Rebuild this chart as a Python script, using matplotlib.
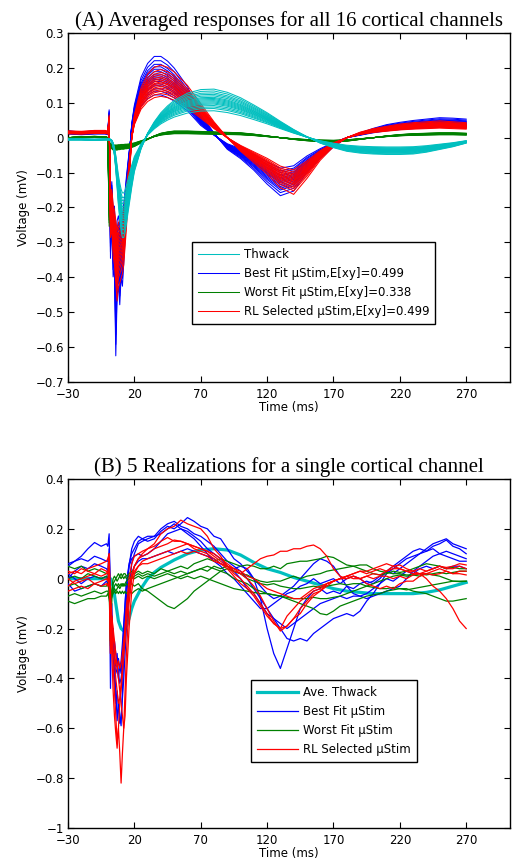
import matplotlib.pyplot as plt
import numpy as np
from matplotlib.lines import Line2D

# MATLAB style colours
c_thwack = (0.0, 0.75, 0.75)
c_best = (0.0, 0.0, 1.0)
c_worst = (0.0, 0.5, 0.0)
c_rl = (1.0, 0.0, 0.0)

xticks = [-30, 20, 70, 120, 170, 220, 270]
xtick_labels = ['\u221230', '20', '70', '120', '170', '220', '270']

# ---------------- panel A : channel averages ----------------
t_a = [-30, -20, -10, -2, 0, 1, 2, 3, 4, 5, 6, 7, 8, 9, 10, 11, 12, 13, 14, 16,
       18, 20, 25, 30, 35, 40, 45, 50, 60, 70, 80, 90, 100, 110, 120, 130, 140,
       150, 160, 170, 180, 190, 200, 210, 220, 230, 240, 250, 260, 270]

thwack_a = [-0.005, -0.005, -0.006, -0.005, -0.005, -0.005, -0.006, -0.01, -0.02, -0.04,
            -0.07, -0.11, -0.15, -0.18, -0.205, -0.22, -0.22, -0.21, -0.19, -0.15,
            -0.11, -0.075, -0.025, 0.01, 0.035, 0.055, 0.07, 0.082, 0.098, 0.106,
            0.107, 0.1, 0.088, 0.072, 0.055, 0.036, 0.018, 0.002, -0.012, -0.022,
            -0.03, -0.034, -0.036, -0.037, -0.037, -0.036, -0.032, -0.026, -0.02, -0.012]

best_a = [0.015, 0.012, 0.015, 0.015, 0.012, 0.06, -0.26, -0.18, -0.3, -0.28,
          -0.47, -0.34, -0.32, -0.36, -0.3, -0.32, -0.27, -0.22, -0.16, -0.06,
          0.03, 0.07, 0.13, 0.16, 0.175, 0.175, 0.165, 0.15, 0.11, 0.05,
          0.01, -0.025, -0.045, -0.07, -0.1, -0.125, -0.115, -0.075, -0.045, -0.02,
          0.0, 0.01, 0.02, 0.028, 0.033, 0.037, 0.04, 0.043, 0.042, 0.04]

worst_a = [0.0, 0.002, 0.003, 0.002, 0.0, -0.2, -0.02, -0.025, -0.028, -0.028,
           -0.028, -0.028, -0.027, -0.027, -0.026, -0.026, -0.026, -0.025, -0.025, -0.024,
           -0.022, -0.02, -0.012, -0.004, 0.004, 0.01, 0.013, 0.015, 0.015, 0.014,
           0.013, 0.012, 0.011, 0.008, 0.004, 0.0, -0.004, -0.007, -0.009, -0.01,
           -0.008, -0.004, 0.0, 0.004, 0.007, 0.009, 0.01, 0.011, 0.011, 0.01]

rl_a = [0.015, 0.014, 0.016, 0.016, 0.014, 0.05, -0.22, -0.2, -0.26, -0.28,
        -0.32, -0.36, -0.33, -0.32, -0.31, -0.3, -0.28, -0.24, -0.2, -0.1,
        0.0, 0.05, 0.11, 0.14, 0.155, 0.16, 0.155, 0.145, 0.115, 0.075,
        0.035, 0.0, -0.03, -0.055, -0.08, -0.11, -0.125, -0.09, -0.05, -0.02,
        0.0, 0.012, 0.02, 0.025, 0.03, 0.033, 0.035, 0.037, 0.035, 0.033]

# per-channel amplitude of each of the 16 channels
gain_thwack = [0.72, 0.78, 0.82, 0.86, 0.9, 0.93, 0.96, 0.99, 1.02, 1.05, 1.08, 1.12, 1.16, 1.2, 1.25, 1.3]
gain_best = [0.7, 0.76, 0.8, 0.85, 0.88, 0.92, 0.95, 0.98, 1.01, 1.04, 1.08, 1.12, 1.16, 1.2, 1.26, 1.33]
gain_worst = [0.75, 0.8, 0.84, 0.88, 0.91, 0.94, 0.97, 1.0, 1.02, 1.05, 1.08, 1.11, 1.14, 1.18, 1.22, 1.27]
gain_rl = [0.74, 0.79, 0.83, 0.86, 0.89, 0.92, 0.95, 0.98, 1.0, 1.03, 1.06, 1.09, 1.13, 1.17, 1.22, 1.3]

legend_a = ['Thwack', 'Best Fit \u00b5Stim,E[xy]=0.499', 'Worst Fit \u00b5Stim,E[xy]=0.338',
            'RL Selected \u00b5Stim,E[xy]=0.499']
yticks_a = [-0.7, -0.6, -0.5, -0.4, -0.3, -0.2, -0.1, 0, 0.1, 0.2, 0.3]
ytick_labels_a = ['\u22120.7', '\u22120.6', '\u22120.5', '\u22120.4', '\u22120.3', '\u22120.2',
                  '\u22120.1', '0', '0.1', '0.2', '0.3']

# ---------------- panel B : single channel realizations ----------------
t_b = [-30, -25, -20, -15, -10, -5, -1, 0,
       1, 2, 3, 4, 5, 6, 7, 8, 9, 10, 11, 12, 13, 14,
       16, 18, 20, 23, 26,
       30, 35, 40, 45, 50, 55, 60, 65, 70, 75, 80, 85, 90, 95, 100,
       105, 110, 115, 120, 125, 130, 135, 140, 145, 150, 155, 160, 165, 170,
       175, 180, 185, 190, 195, 200, 205, 210, 215, 220, 225, 230, 235, 240, 245, 250, 255, 260, 265, 270]

thwack_avg_t = [-30, -10, 0, 2, 4, 6, 8, 10, 12, 14, 16, 18, 20, 25, 30, 35, 40, 50, 60, 70,
                80, 90, 100, 110, 120, 130, 140, 150, 160, 170, 180, 190, 200, 210, 220,
                230, 240, 250, 260, 270]
thwack_avg = [0.0, 0.0, 0.0, 0.0, -0.03, -0.1, -0.17, -0.2, -0.21, -0.19, -0.16, -0.12, -0.09,
              -0.04, 0.0, 0.025, 0.045, 0.075, 0.1, 0.115, 0.12, 0.115, 0.095, 0.065, 0.04,
              0.025, 0.005, -0.01, -0.025, -0.04, -0.05, -0.055, -0.06, -0.06, -0.06, -0.06,
              -0.055, -0.045, -0.03, -0.015]

best_b1 = [0.05, 0.07, 0.09, 0.12, 0.145, 0.13, 0.14, 0.13,
           0.18, -0.1, -0.25, -0.2, -0.35, -0.45, -0.57, -0.5, -0.55, -0.59, -0.45, -0.3, -0.18, -0.08,
           0.05, 0.12, 0.15, 0.17, 0.16,
           0.15, 0.16, 0.19, 0.21, 0.2, 0.22, 0.245, 0.23, 0.21, 0.2, 0.17, 0.16, 0.12, 0.08, 0.06,
           0.03, 0.0, -0.08, -0.2, -0.3, -0.36, -0.28, -0.2, -0.12, -0.08, -0.05, -0.04, -0.06, -0.05,
           -0.06, -0.03, -0.04, -0.02, -0.01, -0.02, 0.0, 0.03, 0.05, 0.07, 0.09, 0.11, 0.12, 0.11,
           0.13, 0.14, 0.155, 0.13, 0.12, 0.1]
best_b2 = [0.06, 0.07, 0.08, 0.07, 0.09, 0.08, 0.07, 0.07,
           0.1, -0.44, -0.1, -0.3, -0.4, -0.5, -0.45, -0.52, -0.58, -0.55, -0.48, -0.4, -0.3, -0.2,
           -0.05, 0.06, 0.1, 0.14, 0.15,
           0.16, 0.17, 0.2, 0.22, 0.23, 0.21, 0.2, 0.18, 0.17, 0.15, 0.13, 0.1, 0.07, 0.05, 0.03,
           0.0, -0.04, -0.08, -0.12, -0.16, -0.2, -0.24, -0.25, -0.24, -0.25, -0.22, -0.2, -0.18, -0.16,
           -0.15, -0.14, -0.15, -0.13, -0.09, -0.06, -0.02, 0.02, 0.04, 0.06, 0.08, 0.09, 0.1, 0.11,
           0.12, 0.1, 0.11, 0.1, 0.09, 0.08]
best_b3 = [0.02, 0.0, -0.02, 0.0, 0.01, 0.0, 0.01, 0.0,
           0.05, -0.2, -0.15, -0.25, -0.33, -0.38, -0.36, -0.4, -0.35, -0.38, -0.3, -0.2, -0.1, -0.02,
           0.05, 0.08, 0.09, 0.1, 0.09,
           0.1, 0.12, 0.15, 0.18, 0.19, 0.2, 0.19, 0.17, 0.15, 0.12, 0.1, 0.08, 0.05, 0.03, 0.0,
           -0.04, -0.06, -0.1, -0.14, -0.16, -0.18, -0.2, -0.18, -0.16, -0.14, -0.12, -0.1, -0.09, -0.08,
           -0.07, -0.08, -0.07, -0.07, -0.08, -0.07, -0.06, -0.05, -0.04, -0.03, 0.0, 0.03, 0.05, 0.07,
           0.09, 0.1, 0.09, 0.08, 0.07, 0.07]
best_b4 = [-0.02, -0.05, -0.04, -0.03, -0.02, -0.03, -0.01, -0.02,
           0.0, -0.15, -0.28, -0.22, -0.32, -0.35, -0.3, -0.38, -0.42, -0.4, -0.35, -0.28, -0.2, -0.12,
           -0.04, 0.02, 0.05, 0.07, 0.08,
           0.08, 0.09, 0.1, 0.11, 0.1, 0.11, 0.12, 0.11, 0.1, 0.09, 0.08, 0.06, 0.05, 0.04, 0.05,
           0.04, 0.0, -0.03, -0.06, -0.08, -0.07, -0.05, -0.03, 0.0, 0.03, 0.06, 0.08, 0.07, 0.05,
           0.01, -0.03, -0.06, -0.07, -0.06, -0.04, -0.02, 0.0, -0.01, 0.01, 0.03, 0.02, 0.04, 0.05,
           0.04, 0.05, 0.04, 0.05, 0.05, 0.04]
best_b5 = [0.0, 0.03, 0.05, 0.04, 0.06, 0.05, 0.04, 0.03,
           0.12, -0.05, -0.2, -0.3, -0.25, -0.3, -0.34, -0.32, -0.36, -0.33, -0.26, -0.18, -0.1, -0.02,
           0.06, 0.1, 0.12, 0.15, 0.16,
           0.17, 0.17, 0.18, 0.2, 0.22, 0.2, 0.18, 0.16, 0.13, 0.1, 0.07, 0.05, 0.02, 0.0, -0.03,
           -0.06, -0.09, -0.12, -0.12, -0.1, -0.08, -0.06, -0.05, -0.03, -0.02, 0.0, -0.02, -0.01, 0.0,
           -0.02, 0.0, 0.01, 0.0, -0.02, -0.01, 0.01, 0.03, 0.02, 0.04, 0.06, 0.08, 0.1, 0.12,
           0.14, 0.15, 0.16, 0.14, 0.13, 0.12]

worst_b1 = [0.05, 0.04, 0.05, 0.03, 0.04, 0.03, 0.02, 0.02,
            0.0, -0.25, -0.05, 0.0, 0.01, 0.0, 0.01, 0.02, 0.01, 0.02, 0.01, 0.02, 0.02, 0.01,
            0.02, 0.03, 0.02, 0.03, 0.02,
            0.03, 0.02, 0.04, 0.03, 0.04, 0.05, 0.04, 0.06, 0.07, 0.08, 0.07, 0.08, 0.07, 0.06, 0.05,
            0.055, 0.05, 0.04, 0.04, 0.05, 0.04, 0.06, 0.065, 0.07, 0.07, 0.075, 0.08, 0.09, 0.085,
            0.07, 0.055, 0.05, 0.04, 0.03, 0.02, 0.015, 0.02, 0.03, 0.025, 0.03, 0.04, 0.05, 0.06,
            0.055, 0.05, 0.04, 0.045, 0.04, 0.04]
worst_b2 = [0.0, 0.01, 0.0, 0.02, 0.01, 0.0, 0.01, 0.0,
            -0.05, -0.15, -0.05, -0.02, -0.01, 0.0, -0.01, 0.0, 0.01, 0.0, 0.01, 0.0, 0.01, 0.0,
            0.01, 0.0, 0.01, 0.02, 0.01,
            0.02, 0.01, 0.02, 0.03, 0.02, 0.03, 0.02, 0.03, 0.04, 0.03, 0.05, 0.04, 0.05, 0.03, 0.02,
            0.015, 0.0, -0.01, -0.015, -0.01, -0.01, 0.0, 0.01, 0.0, 0.01, 0.015, 0.02, 0.03, 0.035,
            0.04, 0.045, 0.05, 0.055, 0.055, 0.04, 0.03, 0.025, 0.02, 0.02, 0.015, 0.015, 0.01, 0.02,
            0.015, 0.01, 0.0, -0.01, -0.01, -0.01]
worst_b3 = [-0.03, -0.02, -0.04, -0.03, -0.02, -0.03, -0.03, -0.02,
            -0.05, -0.27, -0.08, -0.04, -0.03, -0.02, -0.03, -0.02, -0.03, -0.02, -0.03, -0.02, -0.03, -0.02,
            -0.03, -0.02, -0.03, -0.02, -0.04,
            -0.05, -0.07, -0.09, -0.11, -0.12, -0.1, -0.08, -0.05, -0.03, -0.01, 0.01, 0.03, 0.04, 0.03, 0.02,
            0.0, -0.01, -0.02, -0.025, -0.02, -0.03, -0.035, -0.04, -0.04, -0.035, -0.03, -0.035, -0.03, -0.025,
            -0.02, -0.025, -0.02, -0.02, -0.03, -0.035, -0.04, -0.04, -0.035, -0.04, -0.045, -0.04, -0.035, -0.03,
            -0.025, -0.02, -0.015, -0.01, -0.012, -0.01]
worst_b4 = [-0.07, -0.06, -0.07, -0.06, -0.05, -0.06, -0.05, -0.05,
            -0.07, -0.1, -0.07, -0.06, -0.05, -0.06, -0.05, -0.06, -0.05, -0.06, -0.05, -0.06, -0.05, -0.06,
            -0.05, -0.06, -0.05, -0.04, -0.05,
            -0.04, -0.03, -0.02, -0.01, 0.0, 0.01, 0.02, 0.03, 0.04, 0.05, 0.04, 0.03, 0.02, 0.0, -0.01,
            -0.02, -0.04, -0.05, -0.06, -0.065, -0.07, -0.08, -0.09, -0.1, -0.11, -0.12, -0.14, -0.145, -0.13,
            -0.11, -0.1, -0.09, -0.08, -0.07, -0.065, -0.06, -0.05, -0.045, -0.04, -0.04, -0.05, -0.055, -0.06,
            -0.07, -0.08, -0.09, -0.09, -0.085, -0.08]
worst_b5 = [-0.09, -0.1, -0.09, -0.08, -0.08, -0.07, -0.07, -0.06,
            -0.08, -0.12, -0.06, -0.05, -0.04, -0.05, -0.04, -0.03, -0.04, -0.03, -0.02, -0.03, -0.02, -0.01,
            0.0, 0.01, 0.0, 0.01, 0.0,
            0.01, 0.0, 0.01, 0.02, 0.01, 0.0, 0.01, 0.0, 0.01, 0.0, -0.01, -0.02, -0.03, -0.04, -0.045,
            -0.05, -0.055, -0.06, -0.06, -0.065, -0.07, -0.075, -0.08, -0.08, -0.08, -0.075, -0.08, -0.08, -0.075,
            -0.07, -0.06, -0.05, -0.04, -0.03, -0.02, -0.01, 0.0, 0.01, 0.015, 0.01, 0.015, 0.02, 0.015,
            0.02, 0.025, 0.02, 0.025, 0.03, 0.03]

rl_b1 = [-0.03, -0.01, 0.0, 0.01, 0.02, 0.01, 0.02, 0.03,
         0.1, -0.3, -0.2, -0.35, -0.45, -0.55, -0.66, -0.6, -0.7, -0.82, -0.7, -0.6, -0.45, -0.3,
         -0.1, 0.0, 0.05, 0.08, 0.1,
         0.12, 0.14, 0.18, 0.2, 0.21, 0.235, 0.22, 0.21, 0.2, 0.17, 0.12, 0.09, 0.05, 0.02, 0.0,
         -0.03, -0.06, -0.1, -0.14, -0.18, -0.2, -0.19, -0.16, -0.12, -0.09, -0.06, -0.05, -0.03, -0.01,
         0.0, 0.01, 0.02, 0.03, 0.02, 0.03, 0.04, 0.03, 0.04, 0.04, 0.03, 0.02, 0.02, 0.0,
         -0.03, -0.05, -0.08, -0.12, -0.17, -0.2]
rl_b2 = [0.02, 0.03, 0.02, 0.04, 0.05, 0.06, 0.07, 0.08,
         0.1, -0.1, -0.3, -0.45, -0.55, -0.62, -0.68, -0.6, -0.5, -0.45, -0.38, -0.3, -0.2, -0.12,
         0.0, 0.06, 0.09, 0.1, 0.11,
         0.12, 0.13, 0.15, 0.165, 0.15, 0.15, 0.14, 0.13, 0.12, 0.11, 0.09, 0.07, 0.05, 0.03, 0.02,
         0.04, 0.06, 0.08, 0.09, 0.095, 0.11, 0.11, 0.12, 0.12, 0.13, 0.135, 0.12, 0.09, 0.04,
         0.01, 0.0, 0.01, 0.0, 0.01, 0.02, 0.015, 0.03, 0.05, 0.055, 0.04, 0.03, 0.02, 0.02,
         0.015, 0.02, 0.03, 0.02, 0.03, 0.03]
rl_b3 = [0.0, -0.02, -0.01, 0.0, -0.02, -0.01, 0.0, -0.01,
         0.05, -0.25, -0.2, -0.3, -0.33, -0.4, -0.45, -0.5, -0.48, -0.42, -0.35, -0.3, -0.25, -0.18,
         -0.06, 0.0, 0.03, 0.05, 0.07,
         0.08, 0.09, 0.1, 0.11, 0.12, 0.13, 0.14, 0.13, 0.12, 0.11, 0.1, 0.08, 0.06, 0.04, 0.02,
         0.0, -0.03, -0.07, -0.12, -0.17, -0.21, -0.19, -0.16, -0.14, -0.1, -0.07, -0.05, -0.02, -0.01,
         0.0, 0.01, 0.02, 0.03, 0.03, 0.04, 0.05, 0.06, 0.05, 0.04, 0.03, 0.03, 0.04, 0.03,
         0.04, 0.05, 0.04, 0.04, 0.05, 0.04]
rl_b4 = [-0.05, -0.04, -0.03, -0.04, -0.02, -0.03, -0.02, -0.03,
         0.0, -0.3, -0.15, -0.22, -0.3, -0.34, -0.36, -0.33, -0.36, -0.34, -0.3, -0.25, -0.2, -0.12,
         -0.03, 0.02, 0.05, 0.08, 0.09,
         0.1, 0.12, 0.13, 0.14, 0.155, 0.15, 0.14, 0.12, 0.11, 0.1, 0.08, 0.06, 0.04, 0.01, -0.02,
         -0.04, -0.07, -0.11, -0.15, -0.18, -0.2, -0.15, -0.12, -0.09, -0.07, -0.05, -0.04, -0.02, -0.01,
         0.0, 0.01, 0.0, 0.0, -0.02, -0.03, -0.04, -0.03, -0.04, -0.02, -0.01, -0.01, 0.01, 0.02,
         0.03, 0.04, 0.03, 0.02, 0.02, 0.015]
rl_b5 = [0.03, 0.02, 0.04, 0.03, 0.02, 0.04, 0.03, 0.02,
         0.04, -0.05, -0.15, -0.2, -0.25, -0.3, -0.35, -0.4, -0.45, -0.5, -0.55, -0.6, -0.55, -0.4,
         -0.2, -0.05, 0.02, 0.05, 0.06,
         0.06, 0.07, 0.08, 0.09, 0.1, 0.11, 0.1, 0.11, 0.1, 0.09, 0.07, 0.06, 0.05, 0.04, 0.03,
         0.01, 0.0, -0.02, -0.04, -0.05, -0.06, -0.07, -0.08, -0.08, -0.06, -0.04, -0.03, -0.02, -0.01,
         0.0, 0.0, 0.01, 0.0, 0.01, 0.0, 0.01, 0.01, 0.0, 0.01, 0.0, 0.015, 0.02, 0.03,
         0.04, 0.05, 0.045, 0.05, 0.06, 0.055]

legend_b = ['Ave. Thwack', 'Best Fit \u00b5Stim', 'Worst Fit \u00b5Stim', 'RL Selected \u00b5Stim']
yticks_b = [-1, -0.8, -0.6, -0.4, -0.2, 0, 0.2, 0.4]
ytick_labels_b = ['\u22121', '\u22120.8', '\u22120.6', '\u22120.4', '\u22120.2', '0', '0.2', '0.4']

plt.rcParams['font.family'] = ['DejaVu Sans']
fs = 8.5

fig = plt.figure(figsize=(5.14, 8.65), dpi=100)
ax1 = fig.add_axes([0.1323, 0.5584, 0.8599, 0.4035])
ax2 = fig.add_axes([0.1323, 0.0428, 0.8599, 0.4035])

leg_kw = dict(loc='upper left', fontsize=fs, fancybox=False, edgecolor='black', framealpha=1,
              handlelength=3.5, handletextpad=0.4, borderpad=0.5, labelspacing=0.5,
              borderaxespad=0)

# panel A
lw_a = 0.75
for g in gain_best:
    ax1.plot(t_a, np.array(best_a) * g, color=c_best, lw=lw_a, zorder=2)
for g in gain_worst:
    ax1.plot(t_a, np.array(worst_a) * g, color=c_worst, lw=lw_a, zorder=3)
for g in gain_rl:
    ax1.plot(t_a, np.array(rl_a) * g, color=c_rl, lw=lw_a, zorder=4)
for g in gain_thwack:
    ax1.plot(t_a, np.array(thwack_a) * g, color=c_thwack, lw=lw_a, zorder=5)

handles_a = [Line2D([], [], color=c, lw=lw_a) for c in [c_thwack, c_best, c_worst, c_rl]]
leg = ax1.legend(handles_a, legend_a, bbox_to_anchor=(0.28, 0.401), **leg_kw)
leg.get_frame().set_linewidth(1.0)
ax1.set_ylim(-0.7, 0.3)
ax1.set_yticks(yticks_a)
ax1.set_yticklabels(ytick_labels_a)
ax1.set_title('(A) Averaged responses for all 16 cortical channels',
              family='Liberation Serif', fontsize=15, pad=5)

# panel B
ax2.plot(thwack_avg_t, thwack_avg, color=c_thwack, lw=2.3, zorder=2)
lw_b = 0.9
for tr in [best_b1, best_b2, best_b3, best_b4, best_b5]:
    ax2.plot(t_b, tr, color=c_best, lw=lw_b, zorder=3)
for tr in [worst_b1, worst_b2, worst_b3, worst_b4, worst_b5]:
    ax2.plot(t_b, tr, color=c_worst, lw=lw_b, zorder=4)
for tr in [rl_b1, rl_b2, rl_b3, rl_b4, rl_b5]:
    ax2.plot(t_b, tr, color=c_rl, lw=lw_b, zorder=5)

handles_b = [Line2D([], [], color=c_thwack, lw=2.3)] + \
            [Line2D([], [], color=c, lw=lw_b) for c in [c_best, c_worst, c_rl]]
leg = ax2.legend(handles_b, legend_b, bbox_to_anchor=(0.414, 0.423), **leg_kw)
leg.get_frame().set_linewidth(1.0)
ax2.set_ylim(-1, 0.4)
ax2.set_yticks(yticks_b)
ax2.set_yticklabels(ytick_labels_b)
ax2.set_title('(B) 5 Realizations for a single cortical channel',
              family='Liberation Serif', fontsize=15, pad=5)

for ax in [ax1, ax2]:
    ax.set_xlim(-30, 303)
    ax.set_xticks(xticks)
    ax.set_xticklabels(xtick_labels)
    ax.tick_params(direction='in', top=True, right=True, length=4, width=0.8,
                   labelsize=fs, pad=3)
    ax.tick_params(axis='x', pad=4.5)
    ax.set_xlabel('Time (ms)', fontsize=fs, labelpad=0)
    ax.set_ylabel('Voltage (mV)', fontsize=fs, labelpad=4)
    for s in ax.spines.values():
        s.set_linewidth(1.0)

fig.savefig('out.png', dpi=100)
